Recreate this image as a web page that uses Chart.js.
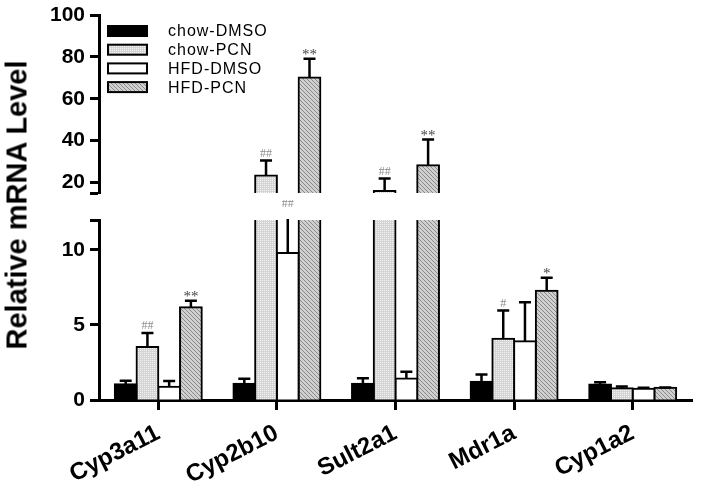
<!DOCTYPE html>
<html>
<head>
<meta charset="utf-8">
<script src="https://cdn.jsdelivr.net/npm/chart.js@4"></script>
<style>
  html, body { margin: 0; padding: 0; background: #fff; }
  #wrap { position: relative; width: 703px; height: 485px; overflow: hidden; background: #fff; }
  #upper { position: absolute; left: 0; top: 0; }
  #lower { position: absolute; left: 0; top: 200px; }
  #ytitle {
    position: absolute; left: 17px; top: 205px;
    transform: translate(-50%, -50%) rotate(-90deg);
    font: bold 29px "Liberation Sans", Arial, sans-serif;
    white-space: nowrap; color: #000;
  }
</style>
</head>
<body>
<div id="wrap">
  <canvas id="upper" width="703" height="200"></canvas>
  <canvas id="lower" width="703" height="285"></canvas>
  <div id="ytitle">Relative mRNA Level</div>
</div>
<script>
const genes = ["Cyp3a11", "Cyp2b10", "Sult2a1", "Mdr1a", "Cyp1a2"];
const groups = ["chow-DMSO", "chow-PCN", "HFD-DMSO", "HFD-PCN"];

// mean values
const chowDmso = [1.05, 1.08, 1.08, 1.21, 1.04];
const chowPcn  = [3.53, 23.4, 16.0, 4.08, 0.79];
const hfdDmso  = [0.88, 9.8, 1.44, 3.91, 0.75];
const hfdPcn   = [6.18, 70.1, 28.3, 7.28, 0.81];

// upper error (SD) for each bar
const chowDmsoErr = [0.23, 0.33, 0.37, 0.49, 0.15];
const chowPcnErr  = [0.93, 7.1, 5.9, 1.88, 0.11];
const hfdDmsoErr  = [0.38, 4.2, 0.44, 2.6, 0.06];
const hfdPcnErr   = [0.44, 9.0, 12.2, 0.87, 0.03];

// significance marks
const chowDmsoMarks = ["", "", "", "", ""];
const chowPcnMarks  = ["##", "##", "##", "#", ""];
const hfdDmsoMarks  = ["", "##", "", "", ""];
const hfdPcnMarks   = ["**", "**", "**", "*", ""];

// broken y axis: two segments
const upperTicks = [15, 20, 40, 60, 80, 100];
const upperTickLabels = ["", "20", "40", "60", "80", "100"];
const lowerTicks = [0, 5, 10, 12];
const lowerTickLabels = ["0", "5", "10", ""];

Chart.defaults.font.family = "'Liberation Sans', Arial, sans-serif";
Chart.defaults.color = "#000";

function makePattern(kind) {
  const c = document.createElement("canvas");
  c.width = 4; c.height = 4;
  const g = c.getContext("2d");
  if (kind === "dots") {
    g.fillStyle = "#d4d4d4";
    g.fillRect(0, 0, 4, 4);
    g.fillStyle = "#f4f4f4";
    g.fillRect(0, 0, 1, 1);
    g.fillRect(2, 2, 1, 1);
    g.fillRect(2, 0, 1, 1);
    g.fillRect(0, 2, 1, 1);
  } else {
    g.fillStyle = "#d0d0d0";
    g.fillRect(0, 0, 4, 4);
    g.fillStyle = "#8a8a8a";
    for (let i = 0; i < 4; i++) g.fillRect(i, i, 1, 1);
  }
  return g.createPattern(c, "repeat");
}

const fills = ["#000", makePattern("dots"), "#fff", makePattern("hatch")];
const values = [chowDmso, chowPcn, hfdDmso, hfdPcn];
const errors = [chowDmsoErr, chowPcnErr, hfdDmsoErr, hfdPcnErr];
const marks = [chowDmsoMarks, chowPcnMarks, hfdDmsoMarks, hfdPcnMarks];

const errorBars = {
  id: "errorBars",
  afterDatasetsDraw(chart) {
    const { ctx, chartArea: a } = chart;
    const y = chart.scales.y;
    ctx.save();
    ctx.beginPath();
    ctx.rect(a.left, a.top - 1, a.right - a.left, a.bottom - a.top + 2);
    ctx.clip();
    ctx.strokeStyle = "#000";
    ctx.lineWidth = 2.5;
    chart.data.datasets.forEach((ds, di) => {
      chart.getDatasetMeta(di).data.forEach((bar, i) => {
        const v = ds.data[i];
        if (v == null) return;
        const y0 = y.getPixelForValue(v);
        const y1 = y.getPixelForValue(v + ds.errors[i]);
        ctx.beginPath();
        ctx.moveTo(bar.x, y0);
        ctx.lineTo(bar.x, y1);
        ctx.moveTo(bar.x - 6, y1);
        ctx.lineTo(bar.x + 6, y1);
        ctx.stroke();
      });
    });
    ctx.restore();

    // significance marks, only where the bar top sits in this segment
    ctx.save();
    ctx.textAlign = "center";
    ctx.textBaseline = "alphabetic";
    chart.data.datasets.forEach((ds, di) => {
      chart.getDatasetMeta(di).data.forEach((bar, i) => {
        const v = ds.data[i];
        const m = ds.marks[i];
        if (v == null || !m || v > y.max || v < y.min) return;
        const top = v + ds.errors[i];
        const over = top > y.max;
        const py = over ? a.top - 13 : y.getPixelForValue(top);
        if (m[0] === "#") {
          ctx.font = "12px 'Liberation Serif', serif";
          ctx.fillStyle = "#8c8c8c";
          ctx.fillText(m, bar.x, over ? py : py - 4);
        } else {
          ctx.font = "15px 'Liberation Serif', serif";
          ctx.fillStyle = "#444";
          ctx.fillText(m, bar.x, py);
        }
      });
    });
    ctx.restore();
  }
};

const boxLegend = {
  id: "boxLegend",
  afterDraw(chart) {
    const { ctx, chartArea: a } = chart;
    ctx.save();
    ctx.font = "16px 'Liberation Sans', Arial, sans-serif";
    if ("letterSpacing" in ctx) ctx.letterSpacing = "1px";
    ctx.textBaseline = "middle";
    chart.data.datasets.forEach((ds, i) => {
      const x = a.left + 9;
      const yTop = a.top + 11 + i * 18.7;
      ctx.fillStyle = ds.backgroundColor;
      ctx.fillRect(x, yTop, 39, 10);
      ctx.strokeStyle = "#000";
      ctx.lineWidth = 2;
      ctx.strokeRect(x, yTop, 39, 10);
      ctx.fillStyle = "#000";
      ctx.fillText(ds.label, x + 60, yTop + 6);
    });
    ctx.restore();
  }
};

function yScale(min, max, ticks, labels) {
  return {
    min: min,
    max: max,
    afterBuildTicks: s => { s.ticks = ticks.map(v => ({ value: v })); },
    afterFit: s => { s.width = 99; s.paddingTop = 0; s.paddingBottom = 0; },
    ticks: {
      callback: (v, i) => labels[i],
      font: { size: 21, weight: "bold" },
      color: "#000",
      padding: 5
    },
    grid: { drawOnChartArea: false, tickLength: 9, tickWidth: 3, color: "#000" },
    border: { width: 3, color: "#000" }
  };
}

function makeChart(id, upper) {
  const min = upper ? upperTicks[0] : lowerTicks[0];
  const datasets = groups.map((name, k) => ({
    label: name,
    data: values[k].map(v => (upper && v < min ? null : v)),
    errors: errors[k],
    marks: marks[k],
    backgroundColor: fills[k],
    borderColor: "#000",
    borderWidth: 2,
    borderSkipped: "start",
    inflateAmount: 1,
    clip: 0
  }));

  return new Chart(document.getElementById(id), {
    type: "bar",
    data: { labels: genes, datasets: datasets },
    options: {
      responsive: false,
      animation: false,
      categoryPercentage: 0.733,
      barPercentage: 1.0,
      layout: { padding: upper ? { top: 15, bottom: 7, right: 11, left: 0 } : { top: 20, bottom: 0, right: 11, left: 0 } },
      scales: {
        x: upper ? { display: false } : {
          grid: { offset: false, drawOnChartArea: false, tickLength: 10, tickWidth: 3, color: "#000" },
          border: { width: 3, color: "#000" },
          ticks: {
            font: { size: 24, weight: "bold" },
            color: "#000",
            minRotation: 27,
            maxRotation: 27,
            autoSkip: false,
            padding: 9
          },
          afterFit: s => { s.height = 85; s.paddingLeft = 0; s.paddingRight = 0; }
        },
        y: upper ? yScale(upperTicks[0], upperTicks[upperTicks.length - 1], upperTicks, upperTickLabels)
                 : yScale(lowerTicks[0], lowerTicks[lowerTicks.length - 1], lowerTicks, lowerTickLabels)
      },
      plugins: {
        legend: { display: false },
        tooltip: { enabled: false }
      }
    },
    plugins: upper ? [errorBars, boxLegend] : [errorBars]
  });
}

makeChart("upper", true);
makeChart("lower", false);
</script>
</body>
</html>
